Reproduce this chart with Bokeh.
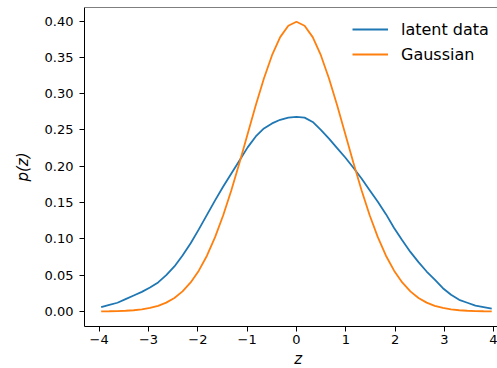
from bokeh.plotting import figure
from bokeh.models import FixedTicker, Span, Legend, LegendItem, Range1d
from bokeh.embed import file_html
from bokeh.resources import INLINE

z = [-3.96, -3.795, -3.63, -3.465, -3.3, -3.135, -2.97, -2.805, -2.64, -2.475,
     -2.31, -2.145, -1.98, -1.815, -1.65, -1.485, -1.32, -1.155, -0.99, -0.825,
     -0.66, -0.495, -0.33, -0.165, 0.0, 0.165, 0.33, 0.495, 0.66, 0.825,
     0.99, 1.155, 1.32, 1.485, 1.65, 1.815, 1.98, 2.145, 2.31, 2.475,
     2.64, 2.805, 2.97, 3.135, 3.3, 3.465, 3.63, 3.795, 3.96]

latent = [0.006, 0.009, 0.012, 0.017, 0.022, 0.027, 0.033, 0.040, 0.050, 0.062,
          0.077, 0.094, 0.113, 0.133, 0.153, 0.172, 0.190, 0.208, 0.226, 0.241,
          0.252, 0.259, 0.264, 0.267, 0.268, 0.267, 0.261, 0.250, 0.238, 0.225,
          0.212, 0.198, 0.183, 0.167, 0.151, 0.134, 0.115, 0.098, 0.082, 0.068,
          0.055, 0.044, 0.032, 0.023, 0.016, 0.012, 0.008, 0.006, 0.004]

gaussian = [0.0002, 0.0003, 0.0005, 0.0010, 0.0017, 0.0029, 0.0048, 0.0078, 0.0122, 0.0186,
            0.0277, 0.0400, 0.0562, 0.0768, 0.1023, 0.1325, 0.1669, 0.2047, 0.2444, 0.2839,
            0.3209, 0.3529, 0.3778, 0.3935, 0.3989, 0.3935, 0.3778, 0.3529, 0.3209, 0.2839,
            0.2444, 0.2047, 0.1669, 0.1325, 0.1023, 0.0768, 0.0562, 0.0400, 0.0277, 0.0186,
            0.0122, 0.0078, 0.0048, 0.0029, 0.0017, 0.0010, 0.0005, 0.0003, 0.0002]

x_ticks = [-4, -3, -2, -1, 0, 1, 2, 3, 4]
x_tick_labels = ["\u22124", "\u22123", "\u22122", "\u22121", "0", "1", "2", "3", "4"]
y_ticks = [0.0, 0.05, 0.10, 0.15, 0.20, 0.25, 0.30, 0.35, 0.40]
y_tick_labels = ["0.00", "0.05", "0.10", "0.15", "0.20", "0.25", "0.30", "0.35", "0.40"]
series_labels = ["latent data", "Gaussian"]

FONT = "DejaVu Sans"
Y_END = 0.4186

p = figure(frame_width=413, frame_height=319,
           x_range=Range1d(-4.298, 4.077), y_range=Range1d(-0.0207, Y_END),
           output_backend="svg", toolbar_location=None,
           min_border_left=84, min_border_top=7, min_border_right=0, min_border_bottom=20,
           background_fill_color="white", border_fill_color="white")
p.outline_line_color = None
p.grid.visible = False

l1 = p.line(z, latent, line_color="#1f77b4", line_width=1.8)
l2 = p.line(z, gaussian, line_color="#ff7f0e", line_width=1.8)

for ax in (p.xaxis[0], p.yaxis[0]):
    ax.major_tick_out = 5
    ax.major_tick_in = 0
    ax.minor_tick_line_color = None
    ax.axis_line_color = "black"
    ax.major_tick_line_color = "black"
    ax.major_label_text_font = FONT
    ax.major_label_text_font_size = "13px"
    ax.major_label_text_color = "black"
    ax.axis_label_text_font = FONT
    ax.axis_label_text_font_size = "15px"
    ax.axis_label_text_font_style = "italic"
    ax.axis_label_text_color = "black"

p.xaxis.ticker = FixedTicker(ticks=x_ticks)
p.xaxis.major_label_overrides = {t: s for t, s in zip(x_ticks, x_tick_labels)}
p.xaxis.major_label_standoff = 3
p.xaxis.axis_label = "\u00a0\u00a0\u00a0z"
p.xaxis.axis_label_standoff = 3

p.yaxis.ticker = FixedTicker(ticks=y_ticks)
p.yaxis.major_label_overrides = {t: s for t, s in zip(y_ticks, y_tick_labels)}
p.yaxis.major_label_standoff = 6
p.yaxis.axis_label = "p(z)"
p.yaxis.axis_label_standoff = 10

top_spine = Span(location=Y_END, dimension="width", line_color="black", line_width=1)
p.add_layout(top_spine)

legend = Legend(items=[LegendItem(label=series_labels[0], renderers=[l1]),
                       LegendItem(label=series_labels[1], renderers=[l2])],
                location=(268, 262), padding=0, margin=0,
                border_line_color=None, background_fill_alpha=0,
                glyph_width=36, glyph_height=20, label_height=20,
                label_standoff=13, spacing=5,
                label_text_font=FONT, label_text_font_size="16px",
                label_text_color="black")
p.add_layout(legend)

open("out.html", "w").write(file_html(p, INLINE))
